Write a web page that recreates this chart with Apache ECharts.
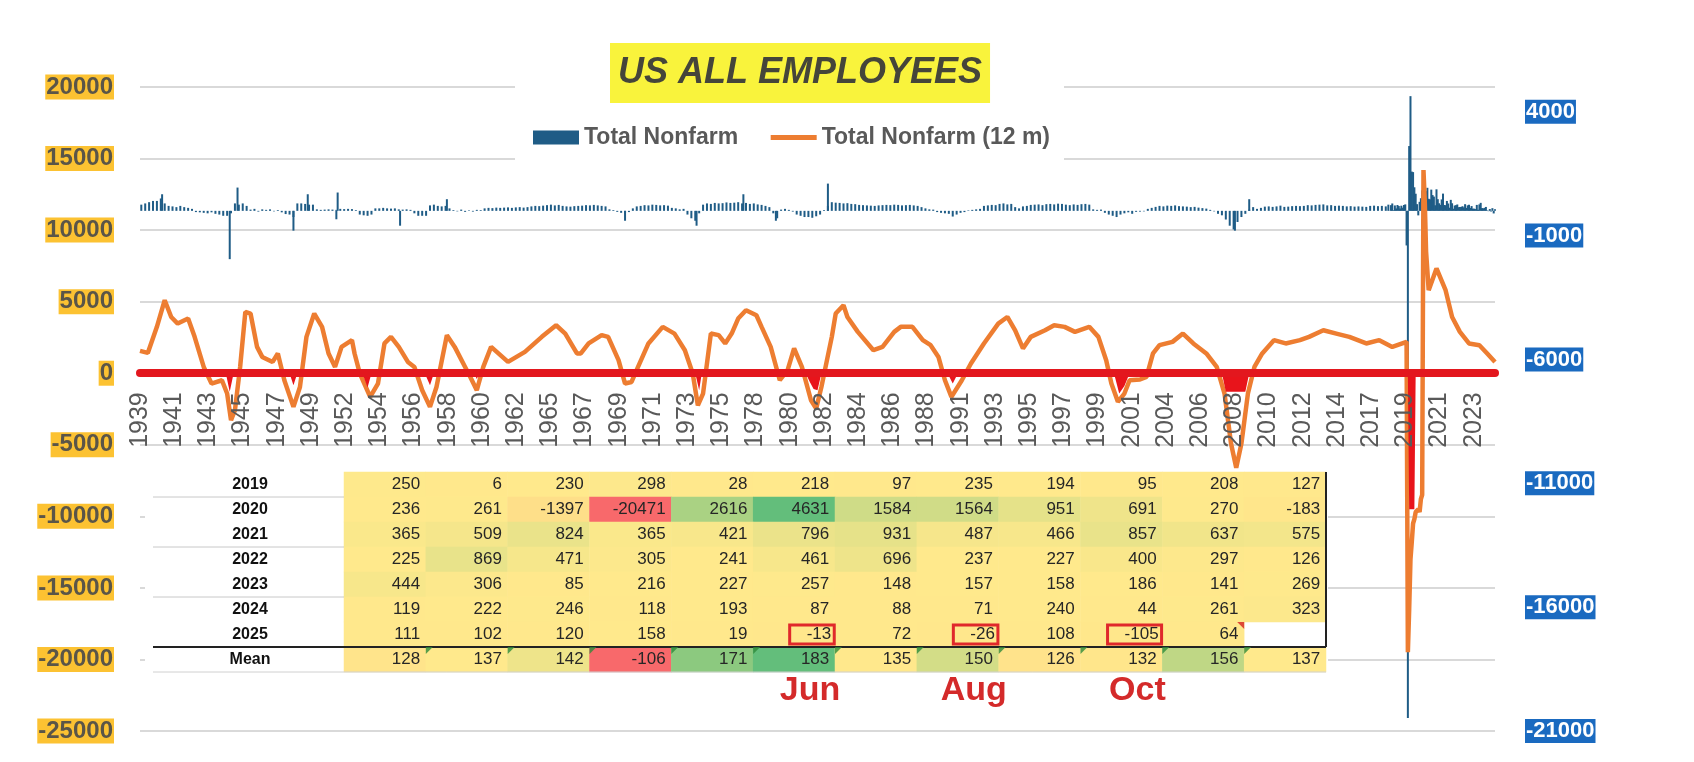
<!DOCTYPE html>
<html>
<head>
<meta charset="utf-8">
<title>US All Employees</title>
<script src="https://cdn.jsdelivr.net/npm/echarts@6.0.0/dist/echarts.min.js"></script>
<style>
html, body { margin: 0; padding: 0; background: #fff; }
#chart { width: 1694px; height: 762px; }
</style>
</head>
<body>
<div id="chart"></div>
<script>
// x axis = months counted from Jan 1939 (0) to Nov 2025 (1042)
var lastMonth = 1042;
var xTickLabels = ['1939','1941','1943','1945','1947','1949','1952','1954','1956','1958',
    '1960','1962','1965','1967','1969','1971','1973','1975','1978','1980',
    '1982','1984','1986','1988','1991','1993','1995','1997','1999','2001',
    '2004','2006','2008','2010','2012','2014','2017','2019','2021','2023'];

// Total Nonfarm (12 m) : 12 month change, thousands -> [month, value]
var nonfarm12m = [
    [0,1560],[6,1420],[13,3240],[19,5100],[24,3930],[29,3470],[37,3820],[42,2540],[49,440],[55,-720],
    [63,-490],[67,-1420],[70,-3280],[73,-2590],[77,440],[81,4280],[85,4170],[90,1840],[94,1140],[102,790],
    [106,1380],[111,-490],[118,-2350],[123,-960],[128,2540],[134,4170],[140,3240],[145,1380],[150,440],[155,1840],
    [163,2310],[165,1380],[169,0],[177,-1650],[183,-720],[188,2080],[193,2540],[199,1840],[206,790],[211,440],
    [217,-1190],[223,-2350],[228,-960],[236,2660],[242,1840],[250,440],[254,-260],[259,-1190],[264,440],[270,1840],
    [283,790],[296,1490],[309,2540],[320,3350],[327,2770],[336,1380],[339,1380],[345,2080],[355,2660],[360,2540],
    [368,910],[373,-720],[378,-610],[383,440],[391,2080],[402,3240],[411,2770],[419,1610],[425,0],[429,-2240],
    [433,-1420],[439,2770],[445,2660],[450,2080],[455,2770],[460,3820],[466,4400],[474,4050],[478,3240],[485,1840],
    [492,-490],[498,210],[503,1730],[509,440],[516,-1890],[520,-2470],[524,-960],[528,790],[532,2540],[535,4170],
    [541,4750],[544,3930],[552,2890],[564,1610],[571,1840],[580,2890],[585,3240],[594,3240],[602,2310],[608,1960],
    [614,1140],[619,-490],[624,-1650],[632,-490],[639,680],[649,2080],[660,3470],[667,3930],[673,3000],[679,1730],
    [685,2540],[696,3000],[703,3350],[711,3240],[719,2890],[730,3240],[737,2540],[743,910],[747,-720],[752,-2000],
    [757,-1420],[761,-490],[769,-440],[774,-260],[779,1380],[784,1960],[794,2190],[802,2770],[810,2080],[820,1380],
    [828,440],[834,-1420],[839,-4910],[843,-6600],[847,-4910],[852,-1420],[857,440],[863,1380],[872,2310],[881,2080],
    [892,2310],[899,2540],[910,3000],[920,2770],[930,2540],[943,2080],[953,2310],[963,1840],[974,2190],[975,-19500],
    [976,-16500],[977,-13000],[978,-11800],[979,-10500],[980,-10200],[981,-9700],[982,-9600],[983,-9500],[984,-9700],
    [985,-8800],[986,-8500],[987,14200],[988,12000],[989,8500],[991,5800],[997,7320],[1004,5800],[1009,3930],
    [1015,2890],[1022,2080],[1030,1960],[1036,1380],[1042,790]
];

// Total Nonfarm : monthly change, quarter readings 1939-2018 (4 per year)
var nonfarmQuarterly = [
    250,300,350,400,  400,500,300,200,  180,150,200,150,  120,80,-50,-60,  -80,-100,-60,-120,
    -150,-200,-200,-100,  300,250,300,200,  50,80,-30,60,  40,60,-20,30,  -60,-130,-150,-250,
    300,300,280,250,  250,60,40,50,  60,50,40,80,  70,80,70,30,  -150,-180,-200,-150,
    100,100,120,100,  90,100,60,50,  60,40,-100,-200,  -200,-200,220,250,  200,180,200,100,
    30,-20,50,-40,  20,-30,40,30,  100,120,110,130,  120,130,140,120,  140,150,130,150,
    180,200,190,210,  230,250,220,240,  200,180,170,190,  200,210,230,220,  240,220,200,180,
    60,30,-40,-80,  -100,-50,100,180,  200,230,220,250,  240,220,230,210,  120,100,60,80,
    -150,-300,-400,-100,  250,300,280,320,  300,310,340,320,  330,350,300,320,  280,300,260,240,
    200,150,-100,-300,  50,80,40,-30,  -150,-200,-250,-250,  -280,-220,-150,30,  200,350,330,320,
    300,310,280,270,  240,230,220,210,  200,220,230,240,  230,250,240,220,  230,240,220,200,
    150,100,60,50,  -50,-80,-100,-120,  -230,-150,-80,-50,  20,40,60,80,  200,220,240,230,
    280,300,260,280,  150,100,180,200,  240,250,260,230,  270,280,260,290,  280,250,230,260,
    240,270,280,250,  60,40,50,-80,  -150,-200,-250,-150,  -100,-60,-120,-40,  -30,-20,80,120,
    160,200,180,210,  200,220,190,180,  170,150,160,130,  110,90,40,-20,  -120,-180,-350,-600,
    -750,-450,-250,-120,  50,150,80,120,  170,180,160,180,  210,160,170,190,  200,190,200,230,
    220,240,250,260,  220,230,200,210,  200,180,190,170,  180,170,160,200,  210,190,200,180
];
// single month spikes [month, value]
var nonfarmSpikes = [[17,670],[69,-1950],[75,940],[118,-800],[129,670],[151,-340],[152,740],[200,-600],
    [236,470],[373,-400],[428,-600],[464,670],[489,-400],[529,1100],[842,-800],[853,470]];

// red shading below zero [month, value]
var redDips = [
    [0,0],[66,0],[69,-1300],[72,0],[115,0],[118,-840],[121,0],[171,0],[175,-1000],[178,0],
    [219,0],[223,-840],[226,0],[257,0],[259,-400],[261,0],[427,0],[430,-1190],[432,0],
    [512,0],[515,-600],[518,-1100],[521,-1190],[524,0],[621,0],[625,-720],[629,0],
    [749,0],[753,-1420],[757,-900],[761,0],[832,0],[835,-1300],[850,-1300],[853,0],
    [975,0],[976,-9500],[980,-9500],[981,0],[1042,0]
];

// table: monthly change by year
var monthNames = ['Jan','Feb','Mar','Apr','May','Jun','Jul','Aug','Sep','Oct','Nov','Dec'];
var tableYears = ['2019','2020','2021','2022','2023','2024','2025'];
var row2019 = [250,6,230,298,28,218,97,235,194,95,208,127];
var row2020 = [236,261,-1397,-20471,2616,4631,1584,1564,951,691,270,-183];
var row2021 = [365,509,824,365,421,796,931,487,466,857,637,575];
var row2022 = [225,869,471,305,241,461,696,237,227,400,297,126];
var row2023 = [444,306,85,216,227,257,148,157,158,186,141,269];
var row2024 = [119,222,246,118,193,87,88,71,240,44,261,323];
var row2025 = [111,102,120,158,19,-13,72,-26,108,-105,64,null];
var meanRow = [128,137,142,-106,171,183,135,150,126,132,156,137];
var flaggedMonths = ['Jun','Aug','Oct'];

var tableRows = [row2019,row2020,row2021,row2022,row2023,row2024,row2025];

// layout
var gridTop = 87, gridBottom = 731;
var tableLeft = 344, tableRight = 1326, tableTop = 472, rowH = 25;
var cellW = (tableRight - tableLeft) / 12;
var zeroY = gridTop + (gridBottom - gridTop) * 20000 / 45000;

// bars: quarters, spikes, then months from the table (2019 on)
var barData = [];
nonfarmQuarterly.forEach(function (v, i) { barData.push([i * 3 + 1, v]); });
nonfarmSpikes.forEach(function (p) { barData.push(p); });
tableRows.forEach(function (row, r) {
    row.forEach(function (v, m) {
        if (v !== null) barData.push([(2019 - 1939) * 12 + r * 12 + m, v]);
    });
});

// excel style 3 colour scale
var RED = [248, 105, 107], YEL = [255, 233, 140], GRN = [99, 190, 123];
function mix(a, b, t) {
    t = Math.max(0, Math.min(1, t));
    return 'rgb(' + a.map(function (c, i) { return Math.round(c + (b[i] - c) * t); }).join(',') + ')';
}
function median(arr) {
    var s = arr.slice().sort(function (a, b) { return a - b; });
    var n = s.length;
    return n % 2 ? s[(n - 1) / 2] : (s[n / 2 - 1] + s[n / 2]) / 2;
}
function scaleColor(v, lo, mid, hi) {
    if (v <= mid) return mix(RED, YEL, (v - lo) / (mid - lo));
    return mix(YEL, GRN, (v - mid) / (hi - mid));
}
var allVals = [];
tableRows.forEach(function (row) { row.forEach(function (v) { if (v !== null) allVals.push(v); }); });
var lo1 = Math.min.apply(null, allVals), hi1 = Math.max.apply(null, allVals), mid1 = median(allVals);
var lo2 = Math.min.apply(null, meanRow), hi2 = Math.max.apply(null, meanRow), mid2 = median(meanRow);

var heatData = [];
tableRows.forEach(function (row, r) {
    row.forEach(function (v, m) {
        if (v === null) return;
        var item = { value: [m, r, v], itemStyle: { color: scaleColor(v, lo1, mid1, hi1) } };
        if (r === 6 && flaggedMonths.indexOf(monthNames[m]) >= 0) {
            item.label = { distance: 1, borderColor: '#E0282B', borderWidth: 3, padding: [2, 3, 0, 17] };
        }
        heatData.push(item);
    });
});
meanRow.forEach(function (v, m) {
    heatData.push({ value: [m, 7, v], itemStyle: { color: scaleColor(v, lo2, mid2, hi2) } });
});
var greenMarks = [];
for (var c = 1; c < 12; c++) greenMarks.push([c, 7]);

var chart = echarts.init(document.getElementById('chart'));
var option = {
    animation: false,
    backgroundColor: '#fff',
    title: {
        text: 'US ALL EMPLOYEES',
        left: 610, top: 43, z: 6,
        backgroundColor: '#F9F33C',
        padding: [10, 8, 10, 8],
        textStyle: { fontSize: 36, fontStyle: 'italic', fontWeight: 'bold', color: '#45453a',
            fontFamily: 'Liberation Sans', lineHeight: 40 }
    },
    legend: {
        left: 515, top: 70, z: 4,
        padding: [56, 14, 26, 18],
        backgroundColor: '#fff',
        itemWidth: 46, itemHeight: 14, itemGap: 30,
        textStyle: { fontSize: 23, fontWeight: 'bold', color: '#595959', fontFamily: 'Liberation Sans' },
        data: [
            { name: 'Total Nonfarm', icon: 'rect' },
            { name: 'Total Nonfarm (12 m)', itemStyle: { opacity: 0 }, lineStyle: { width: 5 } }
        ]
    },
    grid: [
        { left: 140, right: 199, top: gridTop, bottom: 762 - gridBottom, outerBoundsMode: 'none', containLabel: false },
        { left: tableLeft, right: 1694 - tableRight, top: tableTop, height: rowH * 8, outerBoundsMode: 'none', containLabel: false }
    ],
    xAxis: [
        {
            type: 'value', gridIndex: 0, min: 0, max: lastMonth, interval: 26.3, z: 10,
            position: 'bottom', offset: -(gridBottom - zeroY),
            axisLine: { onZero: false, lineStyle: { color: '#E3171E', width: 8 } },
            axisTick: { show: false },
            splitLine: { show: false },
            axisLabel: {
                rotate: 90, margin: 19, fontSize: 25, color: '#595959', fontFamily: 'Liberation Sans',
                formatter: function (v) { return xTickLabels[Math.round(v / 26.3)] || ''; }
            }
        },
        {
            type: 'category', gridIndex: 1, data: monthNames, position: 'bottom', z: 5,
            axisLine: { show: false }, axisTick: { show: false }, splitLine: { show: false },
            axisLabel: {
                interval: 0, margin: 2, fontSize: 34, fontWeight: 'bold', color: '#D42A2A',
                fontFamily: 'Liberation Sans', padding: [0, 0, 0, 32],
                formatter: function (v) { return flaggedMonths.indexOf(v) >= 0 ? v : ''; }
            }
        }
    ],
    yAxis: [
        {
            type: 'value', gridIndex: 0, position: 'left', min: -25000, max: 20000, interval: 5000,
            axisLine: { show: false }, axisTick: { show: false },
            splitLine: { lineStyle: { color: '#D9D9D9', width: 2 } },
            axisLabel: { margin: 26, fontSize: 24, fontWeight: 'bold', color: '#5a5548',
                backgroundColor: '#FCC232', padding: [1, 1, 0, 1], fontFamily: 'Liberation Sans',
                formatter: function (v) { return String(v); } }
        },
        {
            type: 'value', gridIndex: 0, position: 'right', min: -21000, max: 5000, interval: 5000,
            axisLine: { show: false }, axisTick: { show: false }, splitLine: { show: false },
            axisLabel: { showMaxLabel: false, margin: 30, fontSize: 22, fontWeight: 'bold', color: '#fff',
                backgroundColor: '#1A6AC0', padding: [2, 1, 0, 1], fontFamily: 'Liberation Sans',
                formatter: function (v) { return String(v); } }
        },
        {
            type: 'category', gridIndex: 1, data: tableYears.concat(['Mean']), inverse: true, z: 5,
            axisLine: { show: false }, axisTick: { show: false }, splitLine: { show: false },
            axisLabel: { interval: 0, align: 'center', margin: tableLeft - 250, fontSize: 16, fontWeight: 'bold',
                color: '#111', fontFamily: 'Liberation Sans' }
        }
    ],
    graphic: [
        { type: 'rect', z: 1, shape: { x: 145, y: tableTop - 2, width: tableRight - 145 + 2, height: rowH * 8 + 3 },
          style: { fill: '#fff' } },
        { type: 'line', z: 5, shape: { x1: 153, y1: tableTop + rowH, x2: tableLeft, y2: tableTop + rowH }, style: { stroke: '#C8C8C8', lineWidth: 1 } },
        { type: 'line', z: 5, shape: { x1: 153, y1: tableTop + rowH * 3, x2: tableLeft, y2: tableTop + rowH * 3 }, style: { stroke: '#C8C8C8', lineWidth: 1 } },
        { type: 'line', z: 5, shape: { x1: 153, y1: tableTop + rowH * 5, x2: tableLeft, y2: tableTop + rowH * 5 }, style: { stroke: '#C8C8C8', lineWidth: 1 } },
        { type: 'line', z: 5, shape: { x1: 153, y1: tableTop + rowH * 8, x2: tableRight, y2: tableTop + rowH * 8 }, style: { stroke: '#D0D0D0', lineWidth: 1 } },
        { type: 'line', z: 5, shape: { x1: 153, y1: tableTop + rowH * 7, x2: tableRight, y2: tableTop + rowH * 7 }, style: { stroke: '#222', lineWidth: 2 } },
        { type: 'line', z: 5, shape: { x1: tableRight, y1: tableTop, x2: tableRight, y2: tableTop + rowH * 7 }, style: { stroke: '#222', lineWidth: 2 } }
    ],
    series: [
        {
            name: 'Total Nonfarm', type: 'bar', xAxisIndex: 0, yAxisIndex: 1,
            data: barData, barWidth: 2, itemStyle: { color: '#1F5C86' }, z: 2
        },
        {
            name: 'Total Nonfarm (12 m)', type: 'line', xAxisIndex: 0, yAxisIndex: 0,
            data: nonfarm12m, symbol: 'none', showSymbol: false,
            lineStyle: { color: '#ED7D31', width: 4.5 }, itemStyle: { color: '#ED7D31' }, z: 3
        },
        {
            name: 'below zero', type: 'line', xAxisIndex: 0, yAxisIndex: 0, silent: true,
            data: redDips, symbol: 'none', lineStyle: { width: 0 },
            areaStyle: { color: '#E8141B', opacity: 1 }, z: 4
        },
        {
            name: 'table', type: 'heatmap', xAxisIndex: 1, yAxisIndex: 2, z: 3,
            data: heatData,
            itemStyle: { borderWidth: 0 },
            label: {
                show: true, position: 'insideRight', distance: 6, fontSize: 17, color: '#262626',
                fontFamily: 'Liberation Sans',
                formatter: function (p) { return p.value[2]; }
            },
            emphasis: { disabled: true }
        },
        {
            name: 'marks', type: 'scatter', xAxisIndex: 1, yAxisIndex: 2, z: 6, silent: true,
            data: greenMarks, symbol: 'path://M0,0L10,0L0,10Z', symbolSize: 7,
            symbolOffset: [-cellW / 2 + 3.5, -rowH / 2 + 3.5], itemStyle: { color: '#2E8B3A' }
        },
        {
            name: 'marks2', type: 'scatter', xAxisIndex: 1, yAxisIndex: 2, z: 6, silent: true,
            data: [[10, 6]], symbol: 'path://M0,0L10,0L10,10Z', symbolSize: 7,
            symbolOffset: [cellW / 2 - 3.5, -rowH / 2 + 3.5], itemStyle: { color: '#D42020' }
        }
    ]
};
chart.setOption(option);
</script>
</body>
</html>
